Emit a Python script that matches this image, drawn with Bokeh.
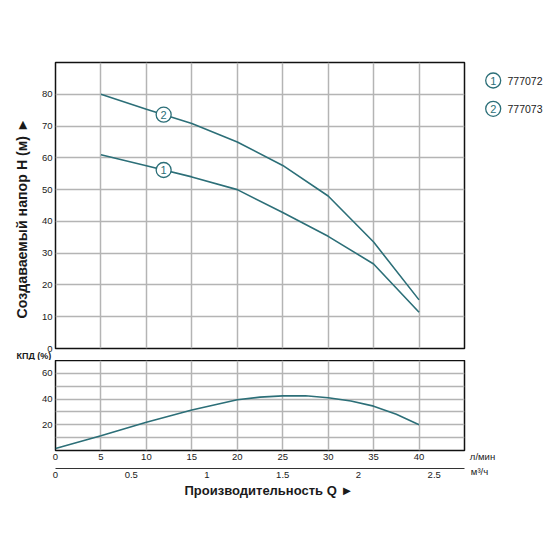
import numpy as np
from bokeh.plotting import figure
from bokeh.models import (Range1d, LinearAxis, FixedTicker, NumeralTickFormatter,
                          CustomJSTickFormatter, Title)
from bokeh.layouts import column, row
from bokeh.embed import file_html
from bokeh.resources import INLINE
from bokeh.core.properties import value

# ---- data ----
flow_lpm = [5, 10, 15, 20, 25, 30, 35, 40]
head_777072 = [61.0, 57.5, 54.0, 50.0, 42.8, 35.3, 26.6, 11.4]
head_777073 = [80.0, 75.3, 70.8, 65.0, 57.6, 48.0, 33.5, 15.3]
eff_flow = [0, 5, 10, 15, 20, 22.5, 25, 27.5, 30, 32.5, 35, 37.5, 40]
eff_pct = [1.5, 11.5, 22.0, 31.5, 39.5, 41.5, 42.5, 42.6, 41.0, 38.5, 34.5, 28.2, 20.0]

x_ticks = [0, 5, 10, 15, 20, 25, 30, 35, 40]
head_ticks = [0, 10, 20, 30, 40, 50, 60, 70, 80]
eff_grid = [10, 20, 30, 40, 50, 60]
eff_ticks = [20, 40, 60]
m3h_ticks = [0, 0.5, 1, 1.5, 2, 2.5]

models = ["777072", "777073"]
curve_ids = ["1", "2"]
label_flow = 11.9

TEAL = "#2c6f78"
GRID = "#b4b4b4"
FONT = "Liberation Sans"
TXT = "#1a1a1a"
TICK_FS = "9.5px"


def style_axis(ax, standoff):
    ax.axis_line_color = None
    ax.major_tick_out = 0
    ax.major_tick_in = 0
    ax.minor_tick_line_color = None
    ax.major_label_standoff = standoff
    ax.major_label_text_font = FONT
    ax.major_label_text_font_size = TICK_FS
    ax.major_label_text_color = TXT


# ---- top figure: head ----
p1 = figure(width=466, height=360, x_range=Range1d(0, 45), y_range=Range1d(0, 90),
            output_backend="svg", toolbar_location=None, title=None,
            min_border_left=55, min_border_right=2, min_border_top=62, min_border_bottom=12)
p1.xaxis.visible = False
p1.xaxis.ticker = FixedTicker(ticks=x_ticks)
p1.xgrid.ticker = FixedTicker(ticks=x_ticks[1:])
p1.yaxis.ticker = FixedTicker(ticks=head_ticks)
p1.ygrid.ticker = FixedTicker(ticks=head_ticks[1:])
style_axis(p1.yaxis[0], 3)
p1.grid.grid_line_color = GRID
p1.grid.grid_line_width = 1.5
p1.outline_line_color = "#111111"
p1.outline_line_width = 1.5

p1.line(flow_lpm, head_777072, line_color=TEAL, line_width=1.6)
p1.line(flow_lpm, head_777073, line_color=TEAL, line_width=1.6)

lab_y = [float(np.interp(label_flow, flow_lpm, head_777072)),
         float(np.interp(label_flow, flow_lpm, head_777073))]
p1.scatter([label_flow, label_flow], lab_y, marker="circle", size=15,
           fill_color="white", line_color=TEAL, line_width=1.3)
p1.text([label_flow, label_flow], lab_y, text=curve_ids, text_align="center",
        text_baseline="middle", text_font=value(FONT), text_font_size="11px",
        text_color=TEAL)

p1.add_layout(Title(text="Создаваемый напор H (м) ►", align="left", offset=30,
                    standoff=18, text_font=FONT, text_font_size="14.2px",
                    text_font_style="bold", text_color=TXT), "left")
p1.add_layout(Title(text="КПД (%)", align="left", offset=-39, standoff=0,
                    text_font=FONT, text_font_size="9px", text_font_style="bold",
                    text_color=TXT), "below")

# ---- legend figure (frame is aligned with p1's frame: y in page pixels) ----
p3 = figure(width=90, height=360, x_range=Range1d(0, 90), y_range=Range1d(348, 62),
            output_backend="svg", toolbar_location=None, title=None,
            min_border=0, x_axis_location=None, y_axis_location=None)
p3.grid.visible = False
p3.outline_line_color = None
legend_x = 26.7
legend_y = [80, 108.3]
p3.scatter([legend_x] * 2, legend_y, marker="circle", size=15,
           fill_color="white", line_color=TEAL, line_width=1.3)
p3.text([legend_x] * 2, legend_y, text=curve_ids, text_align="center",
        text_baseline="middle", text_font=value(FONT), text_font_size="11px",
        text_color=TEAL)
p3.text([legend_x + 14.3] * 2, legend_y, text=models, text_align="left",
        text_baseline="middle", text_font=value(FONT), text_font_size="10.5px",
        text_color="#222222")

# ---- bottom figure: efficiency ----
p2 = figure(width=466, height=195, x_range=Range1d(0, 45), y_range=Range1d(0, 70),
            output_backend="svg", toolbar_location=None, title=None,
            min_border_left=55, min_border_right=2, min_border_top=0, min_border_bottom=105)
p2.xaxis.ticker = FixedTicker(ticks=x_ticks)
p2.xgrid.ticker = FixedTicker(ticks=x_ticks[1:])
p2.yaxis.ticker = FixedTicker(ticks=eff_ticks)
p2.ygrid.ticker = FixedTicker(ticks=eff_grid)
style_axis(p2.xaxis[0], 3)
style_axis(p2.yaxis[0], 3)
p2.xaxis.axis_label = " "
p2.xaxis.axis_label_text_font_size = "2px"
p2.xaxis.axis_label_standoff = 1
p2.grid.grid_line_color = GRID
p2.grid.grid_line_width = 1.5
p2.outline_line_color = "#111111"
p2.outline_line_width = 1.5

p2.extra_x_ranges = {"m3h": Range1d(0, 45 * 60 / 1000)}
ax2 = LinearAxis(x_range_name="m3h", ticker=FixedTicker(ticks=m3h_ticks),
                 formatter=NumeralTickFormatter(format="0.[0]"))
style_axis(ax2, 3)
ax2.axis_line_color = "#333333"
ax2.axis_line_width = 1.2
p2.add_layout(ax2, "below")

p2.line(eff_flow, eff_pct, line_color=TEAL, line_width=1.6)

p2.add_layout(Title(text="Производительность Q ►", align="left", offset=129,
                    standoff=0, text_font=FONT, text_font_size="13px",
                    text_font_style="bold", text_color=TXT), "below")

# ---- unit labels to the right of the bottom chart ----
p4 = figure(width=90, height=195, x_range=Range1d(0, 90), y_range=Range1d(0, 1),
            output_backend="svg", toolbar_location=None, title=None,
            min_border_left=0, min_border_right=0, min_border_top=0, min_border_bottom=105,
            y_axis_location=None)
p4.grid.visible = False
p4.outline_line_color = None
p4.xaxis.ticker = FixedTicker(ticks=[16])
p4.xaxis.formatter = CustomJSTickFormatter(code="return 'л/мин'")
style_axis(p4.xaxis[0], 0)
ax4 = LinearAxis(ticker=FixedTicker(ticks=[13]),
                 formatter=CustomJSTickFormatter(code="return 'м³/ч'"))
style_axis(ax4, 1)
p4.add_layout(ax4, "below")

layout = column(row(p1, p3), row(p2, p4))
open("out.html", "w").write(file_html(layout, INLINE))
